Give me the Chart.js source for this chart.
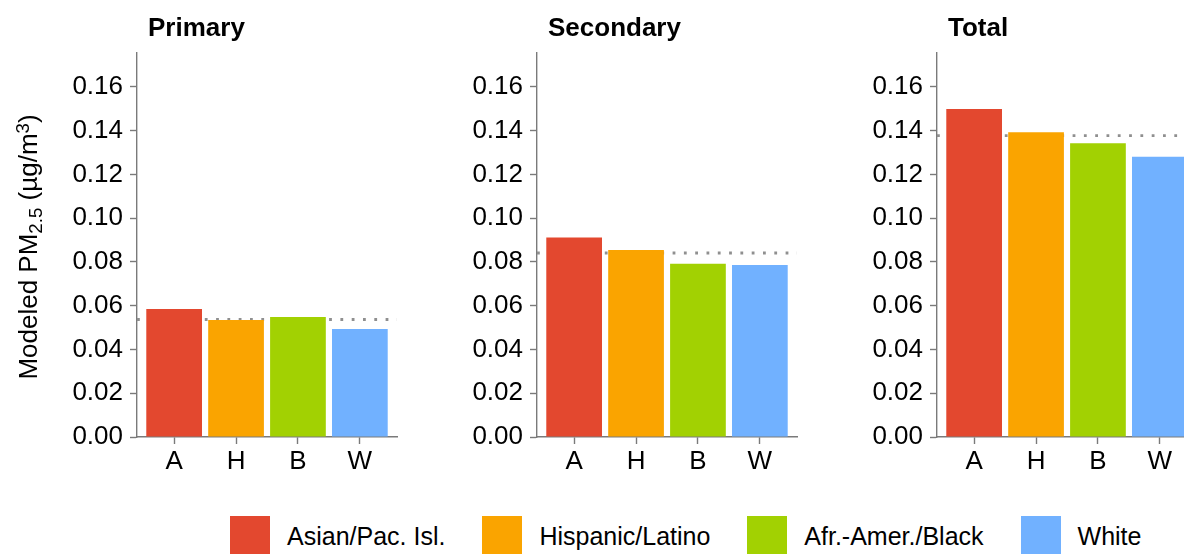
<!DOCTYPE html>
<html>
<head>
<meta charset="utf-8">
<script src="https://cdn.jsdelivr.net/npm/chart.js@4.4.1/dist/chart.umd.min.js"></script>
<style>
  html, body { margin: 0; padding: 0; background: #fff; overflow: hidden; width: 1184px; height: 554px; }
  #wrap { position: relative; width: 1184px; height: 554px; overflow: hidden; }
  #wrap canvas { position: absolute; top: 0; }
  #legend { position: absolute; left: 230px; top: 516px; display: flex; align-items: center;
            font: 25px "Liberation Sans", Arial, sans-serif; color: #000; white-space: nowrap; }
  .item { display: flex; align-items: center; margin-right: 37px; }
  .key { width: 40px; height: 40px; margin-right: 17px; }
</style>
</head>
<body>
<div id="wrap">
  <canvas id="panel0" width="400" height="480" style="left:0px"></canvas>
  <canvas id="panel1" width="400" height="480" style="left:400px"></canvas>
  <canvas id="panel2" width="400" height="480" style="left:800px"></canvas>
  <div id="legend"></div>
</div>
<script>
// Population groups on the x axis and in the legend
const categories = ['A', 'H', 'B', 'W'];
const groupNames = ['Asian/Pac. Isl.', 'Hispanic/Latino', 'Afr.-Amer./Black', 'White'];
const groupColors = ['#E3482F', '#FAA400', '#A2D102', '#71B1FF'];

// Facet titles
const panelTitles = ['Primary', 'Secondary', 'Total'];

// Modeled PM2.5 (µg/m3) by group
const primaryValues = [0.0585, 0.0535, 0.0549, 0.0494];
const secondaryValues = [0.0912, 0.0855, 0.0792, 0.0786];
const totalValues = [0.1499, 0.1393, 0.1342, 0.1281];

// Population-average concentration per facet (dotted reference line)
const populationAverages = [0.0537, 0.0841, 0.1377];

// y-axis ticks
const yTicks = [0.00, 0.02, 0.04, 0.06, 0.08, 0.10, 0.12, 0.14, 0.16];
const yMax = 0.1755;

const panelValues = [primaryValues, secondaryValues, totalValues];

const FONT = '"Liberation Sans", Arial, Helvetica, sans-serif';
const AXIS_GREY = '#7a7a7a';

// Draws the facet title and, on the first facet, the rotated y-axis title
const panelDecor = {
  id: 'panelDecor',
  afterDraw(chart, args, opts) {
    const ctx = chart.ctx;
    const area = chart.chartArea;
    ctx.save();
    ctx.fillStyle = '#000';
    ctx.textAlign = 'left';
    ctx.textBaseline = 'alphabetic';
    ctx.font = 'bold 26px ' + FONT;
    ctx.fillText(opts.title, area.left + 11, 36);

    if (opts.yTitle) {
      const base = 26;
      const runs = [
        { text: 'Modeled PM', size: base, shift: 0 },
        { text: '2.5', size: base * 0.72, shift: 5 },
        { text: ' (\u00B5g/m', size: base, shift: 0 },
        { text: '3', size: base * 0.72, shift: -8 },
        { text: ')', size: base, shift: 0 }
      ];
      let total = 0;
      runs.forEach(r => {
        ctx.font = r.size + 'px ' + FONT;
        r.w = ctx.measureText(r.text).width;
        total += r.w;
      });
      const cy = (area.top + area.bottom) / 2 + 2;
      ctx.translate(37, cy);
      ctx.rotate(-Math.PI / 2);
      let x = -total / 2;
      runs.forEach(r => {
        ctx.font = r.size + 'px ' + FONT;
        ctx.fillText(r.text, x, r.shift);
        x += r.w;
      });
    }
    ctx.restore();
  }
};

function buildPanel(idx) {
  const values = panelValues[idx];
  const avg = populationAverages[idx];
  return new Chart(document.getElementById('panel' + idx), {
    type: 'bar',
    data: {
      datasets: [
        {
          type: 'bar',
          data: values.map((v, i) => ({ x: i, y: v })),
          backgroundColor: groupColors,
          borderWidth: 0,
          barPercentage: 0.9,
          categoryPercentage: 1.0,
          order: 1
        },
        {
          type: 'line',
          data: [{ x: -0.6, y: avg }, { x: categories.length - 0.4, y: avg }],
          borderColor: '#8f8f8f',
          borderWidth: 2.8,
          borderDash: [2.8, 8.5],
          borderCapStyle: 'butt',
          pointRadius: 0,
          fill: false,
          order: 2
        }
      ]
    },
    options: {
      responsive: false,
      animation: false,
      events: [],
      layout: { padding: { top: 53, right: 3, left: 0, bottom: 0 } },
      plugins: {
        legend: { display: false },
        tooltip: { enabled: false },
        title: { display: false },
        panelDecor: { title: panelTitles[idx], yTitle: idx === 0 }
      },
      scales: {
        x: {
          type: 'linear',
          min: -0.6,
          max: categories.length - 0.4,
          offset: false,
          afterBuildTicks: s => { s.ticks = categories.map((c, i) => ({ value: i })); },
          afterFit: s => { s.height = 43; },
          grid: { display: true, offset: false, drawOnChartArea: false, drawTicks: true,
                  tickLength: 7, tickColor: AXIS_GREY, tickWidth: 1.4 },
          border: { display: true, color: AXIS_GREY, width: 1.4 },
          ticks: {
            color: '#000', font: { family: FONT, size: 26 }, padding: 2,
            maxRotation: 0, autoSkip: false,
            callback: v => categories[Math.round(v)]
          }
        },
        y: {
          type: 'linear',
          min: 0,
          max: yMax,
          afterBuildTicks: s => { s.ticks = yTicks.map(v => ({ value: v })); },
          afterFit: s => { s.width = 137; },
          grid: { display: true, drawOnChartArea: false, drawTicks: true,
                  tickLength: 7, tickColor: AXIS_GREY, tickWidth: 1.4 },
          border: { display: true, color: AXIS_GREY, width: 1.4 },
          ticks: {
            color: '#000', font: { family: FONT, size: 26 }, padding: 7,
            callback: v => v.toFixed(2)
          }
        }
      }
    },
    plugins: [panelDecor]
  });
}

panelTitles.forEach((_, i) => buildPanel(i));

// Legend: colour key plus group name
const legend = document.getElementById('legend');
groupNames.forEach((name, i) => {
  const item = document.createElement('div');
  item.className = 'item';
  const key = document.createElement('div');
  key.className = 'key';
  key.style.background = groupColors[i];
  const label = document.createElement('span');
  label.textContent = name;
  item.appendChild(key);
  item.appendChild(label);
  legend.appendChild(item);
});
</script>
</body>
</html>
